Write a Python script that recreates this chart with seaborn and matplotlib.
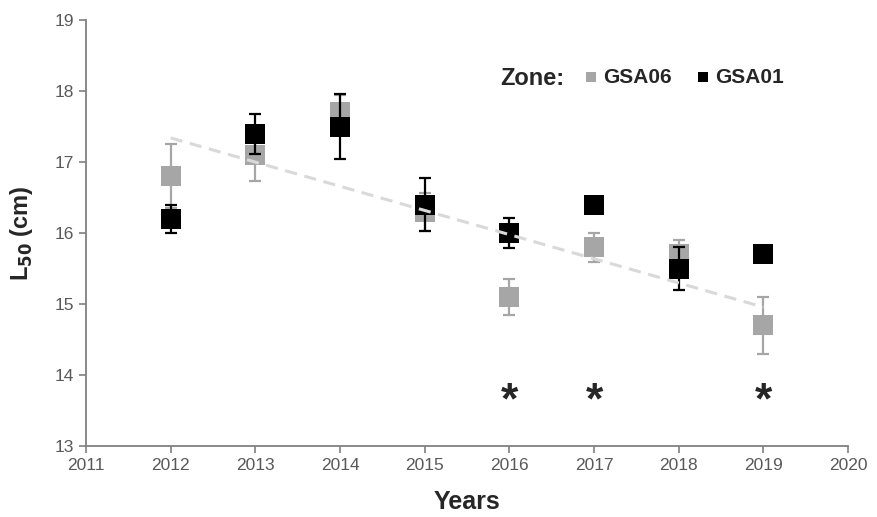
import pandas as pd
import matplotlib
matplotlib.use("Agg")
import matplotlib.pyplot as plt
import seaborn as sns

years = [2012, 2013, 2014, 2015, 2016, 2017, 2018, 2019]
gsa06 = [16.8, 17.1, 17.7, 16.3, 15.1, 15.8, 15.7, 14.7]
gsa06_err = [0.45, 0.37, 0.25, 0.27, 0.25, 0.2, 0.2, 0.4]
gsa01 = [16.2, 17.4, 17.5, 16.4, 16.0, 16.4, 15.5, 15.7]
gsa01_err = [0.2, 0.28, 0.46, 0.37, 0.21, 0.1, 0.3, 0.08]
signif_years = [2016, 2017, 2019]
zones = ["GSA06", "GSA01"]
colors = {"GSA06": "#a6a6a6", "GSA01": "#000000"}

df = pd.concat([
    pd.DataFrame({"Year": years, "L50": gsa06, "err": gsa06_err, "Zone": "GSA06"}),
    pd.DataFrame({"Year": years, "L50": gsa01, "err": gsa01_err, "Zone": "GSA01"}),
], ignore_index=True)

sns.set_style("ticks")
plt.rcParams['font.family'] = ['Liberation Sans', 'DejaVu Sans']

fig, ax = plt.subplots(figsize=(8.77, 5.17), dpi=100)
fig.subplots_adjust(left=0.098, right=0.967, top=0.961, bottom=0.137)

z = 2
for zone in zones:
    d = df[df["Zone"] == zone]
    ax.errorbar(d["Year"], d["L50"], yerr=d["err"], fmt='none', ecolor=colors[zone],
                elinewidth=1.6, capsize=4.5, capthick=1.6, zorder=z)
    sns.scatterplot(data=d, x="Year", y="L50", color=colors[zone], marker='s', s=210,
                    linewidth=0, ax=ax, zorder=z + 1, label=zone)
    z += 2

# linear trend of GSA06
sns.regplot(data=df[df["Zone"] == "GSA06"], x="Year", y="L50", ci=None, scatter=False,
            ax=ax, line_kws=dict(color="#d9d9d9", ls=(0, (4, 2.5)), lw=2.2, zorder=10))

for yr in signif_years:
    ax.text(yr, 13.62, "*", ha='center', va='center', fontsize=32, fontweight='bold')

ax.set_xlim(2011, 2020)
ax.set_ylim(13, 19)
ax.set_xticks(range(2011, 2021))
ax.set_yticks(range(13, 20))
ax.set_xlabel("Years", fontsize=18, fontweight='bold', labelpad=12)
ax.set_ylabel("L$_{\\mathbf{50}}$ (cm)", fontsize=17, fontweight='bold', labelpad=14)
ax.tick_params(colors="#808080", labelcolor="#595959", labelsize=12.5, length=5, width=1.2)
for s in ["left", "bottom"]:
    ax.spines[s].set_color("#808080")
    ax.spines[s].set_linewidth(1.3)
sns.despine(ax=ax)

ax.text(0.543, 0.864, "Zone:", transform=ax.transAxes, fontsize=17, fontweight='bold',
        va='center', ha='left')
leg = ax.legend(ncol=2, frameon=False, loc='center left', bbox_to_anchor=(0.624, 0.866),
                markerscale=0.5, handletextpad=0.1, columnspacing=1.0,
                prop={'size': 15, 'weight': 'bold'}, handlelength=1.0)

fig.savefig("out.png", dpi=100)
